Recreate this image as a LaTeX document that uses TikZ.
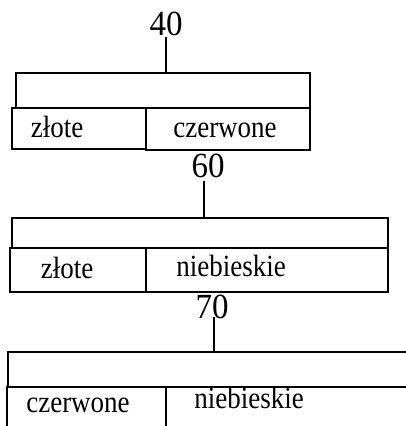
\documentclass[tikz,border=0pt]{standalone}
\usepackage{fontspec}
\setmainfont{Liberation Serif}
\newcommand{\tallnum}[1]{\scalebox{1}[1.07]{\fontsize{33}{36}\selectfont #1}}
\newcommand{\talllbl}[1]{\scalebox{1}[1.14]{\fontsize{27}{30}\selectfont #1}}
\begin{document}
\begin{tikzpicture}[x=1pt,y=-1pt,
  num/.style={inner sep=0pt, anchor=base},
  lbl/.style={inner sep=0pt, anchor=base},
  ln/.style={line width=1.8pt, line cap=rect}]
\useasboundingbox (0,0) rectangle (406,426);
% ---- group 1 ----
\node[num] (n1) at (166,35) {\tallnum{40}};
\coordinate (b1) at (166,73);
\coordinate (b1l) at (16,108);
\coordinate (b1r) at (310,108);
\draw[ln] (b1l) -- (b1l |- b1) -- (b1r |- b1) -- (b1r);
\draw[ln] ([yshift=-3pt]n1.base -| b1) -- (b1);
\draw[ln] (12,108) rectangle (146,149);
\draw[ln] (146,108) rectangle (310,150);
\node[lbl] (c1a) at (57,137) {\talllbl{złote}};
\node[lbl] (c1b) at (225,137) {\talllbl{czerwone}};
% ---- group 2 ----
\node[num] (n2) at (208,177) {\tallnum{60}};
\coordinate (b2) at (204,218);
\coordinate (b2l) at (12,248);
\coordinate (b2r) at (388,248);
\draw[ln] (b2l) -- (b2l |- b2) -- (b2r |- b2) -- (b2r);
\draw[ln] ([yshift=-5pt]n2.base -| b2) -- (b2);
\draw[ln] (10,248) rectangle (146,292);
\draw[ln] (146,248) rectangle (388,292);
\node[lbl] (c2a) at (67,278) {\talllbl{złote}};
\node[lbl] (c2b) at (231,276) {\talllbl{niebieskie}};
% ---- group 3 ----
\node[num] (n3) at (212,318) {\tallnum{70}};
\coordinate (b3) at (214,352);
\coordinate (b3l) at (8,387);
\coordinate (b3r) at (412,387);
\draw[ln] (b3l) -- (b3l |- b3) -- (b3r |- b3);
\draw[ln] (n3.base -| b3) -- (b3);
\draw[ln] (7,387) rectangle (166,432);
\draw[ln] (166,387) rectangle (412,432);
\node[lbl] (c3a) at (78,412) {\talllbl{czerwone}};
\node[lbl] (c3b) at (249,408) {\talllbl{niebieskie}};
\end{tikzpicture}
\end{document}
